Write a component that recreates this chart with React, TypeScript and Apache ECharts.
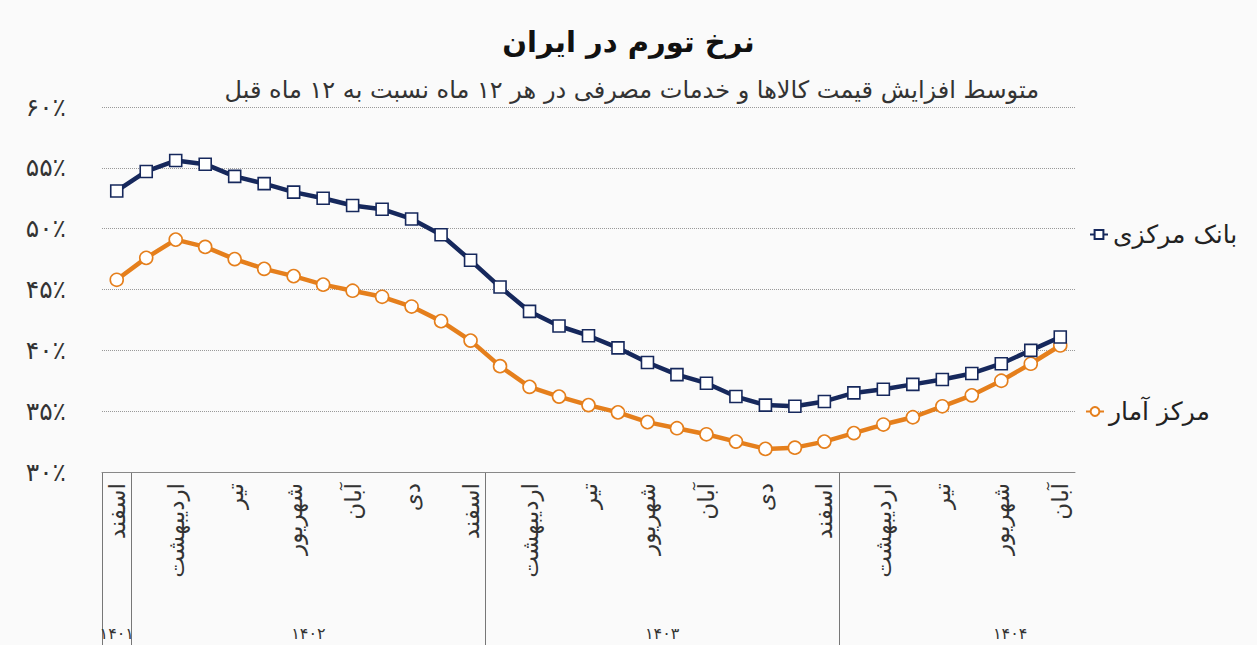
import React, { useEffect, useRef } from 'react';
import * as echarts from 'echarts';

const months = [
  'اسفند',
  'فروردین', 'اردیبهشت', 'خرداد', 'تیر', 'مرداد', 'شهریور', 'مهر', 'آبان', 'آذر', 'دی', 'بهمن', 'اسفند',
  'فروردین', 'اردیبهشت', 'خرداد', 'تیر', 'مرداد', 'شهریور', 'مهر', 'آبان', 'آذر', 'دی', 'بهمن', 'اسفند',
  'فروردین', 'اردیبهشت', 'خرداد', 'تیر', 'مرداد', 'شهریور', 'مهر', 'آبان',
];

const centralBank = [
  53.1, 54.7, 55.6, 55.3, 54.3, 53.7, 53.0, 52.5, 51.9, 51.6, 50.8, 49.5, 47.4,
  45.2, 43.2, 42.0, 41.2, 40.2, 39.0, 38.0, 37.3, 36.2, 35.5, 35.4, 35.8,
  36.5, 36.8, 37.2, 37.6, 38.1, 38.9, 40.0, 41.1,
];

const statCenter = [
  45.8, 47.6, 49.1, 48.5, 47.5, 46.7, 46.1, 45.4, 44.9, 44.4, 43.6, 42.4, 40.8,
  38.7, 37.0, 36.2, 35.5, 34.9, 34.1, 33.6, 33.1, 32.5, 31.9, 32.0, 32.5,
  33.2, 33.9, 34.5, 35.4, 36.3, 37.5, 38.9, 40.4,
];

const years = ['۱۴۰۱', '۱۴۰۲', '۱۴۰۳', '۱۴۰۴'];
const yearStartIdx = [0, 1, 13, 25];
const yearLabelIdx = [0, 6.5, 18.5, 30.3];

const seriesNames = ['بانک مرکزی', 'مرکز آمار'];
const titleText = 'نرخ تورم در ایران';
const subtitleText = 'متوسط افزایش قیمت کالاها و خدمات مصرفی در هر ۱۲ ماه نسبت به ۱۲ ماه قبل';

const yMin = 30;
const yMax = 60;
const yStep = 5;

const FONT = '"DejaVu Sans", "Noto Sans", sans-serif';
const BLUE = '#16285c';
const ORANGE = '#e57f1c';

const toFa = (s: string | number) =>
  String(s).replace(/[0-9]/g, (d) => '۰۱۲۳۴۵۶۷۸۹'[Number(d)]);

export default function App() {
  const ref = useRef<HTMLDivElement>(null);

  useEffect(() => {
    if (!ref.current) return;
    const chart = echarts.init(ref.current, undefined, { renderer: 'svg' });
    chart.setOption({
      animation: false,
      backgroundColor: '#fafafa',
      textStyle: { fontFamily: FONT },
      title: [
        {
          text: titleText,
          left: 'center',
          top: 22,
          textStyle: { fontSize: 29, fontWeight: 'bold', color: '#111', fontFamily: FONT },
        },
        {
          text: subtitleText,
          right: 213,
          top: 73,
          textStyle: { fontSize: 24, fontWeight: 'normal', color: '#333', fontFamily: FONT },
        },
      ],
      legend: [
        {
          data: [seriesNames[0]],
          left: 1084,
          top: 217,
          itemWidth: 18,
          itemHeight: 11,
          itemGap: 4,
          textStyle: { fontSize: 25, color: '#222', fontFamily: FONT },
        },
        {
          data: [seriesNames[1]],
          left: 1080,
          top: 394,
          itemWidth: 18,
          itemHeight: 11,
          itemGap: 4,
          textStyle: { fontSize: 25, color: '#222', fontFamily: FONT },
        },
      ],
      grid: { left: 102, right: 182, top: 107, bottom: 173, containLabel: false },
      xAxis: {
        type: 'category',
        data: months,
        boundaryGap: true,
        axisLine: { show: true, lineStyle: { color: '#888', width: 1 } },
        axisTick: { show: false },
        axisLabel: {
          rotate: 90,
          interval: 1,
          fontSize: 23,
          color: '#333',
          margin: 11,
          fontFamily: FONT,
        },
        splitLine: { show: false },
      },
      yAxis: {
        type: 'value',
        min: yMin,
        max: yMax,
        interval: yStep,
        axisLine: { show: false },
        axisTick: { show: false },
        axisLabel: {
          formatter: (v: number) => toFa(v) + '٪',
          fontSize: 25,
          color: '#333',
          margin: 36,
          fontFamily: FONT,
        },
        splitLine: { lineStyle: { type: 'dotted', color: '#999', width: 1 } },
      },
      series: [
        {
          name: seriesNames[0],
          type: 'line',
          data: centralBank,
          color: BLUE,
          symbol: 'rect',
          symbolSize: 12,
          lineStyle: { color: BLUE, width: 4.5 },
          itemStyle: { color: '#fff', borderColor: BLUE, borderWidth: 1.6 },
          z: 3,
        },
        {
          name: seriesNames[1],
          type: 'line',
          data: statCenter,
          color: ORANGE,
          symbol: 'circle',
          symbolSize: 13,
          lineStyle: { color: ORANGE, width: 4.5 },
          itemStyle: { color: '#fff', borderColor: ORANGE, borderWidth: 1.6 },
          z: 2,
        },
      ],
    });

    const px = (idx: number) => {
      const lo = Math.floor(idx);
      const hi = Math.ceil(idx);
      const a = chart.convertToPixel({ xAxisIndex: 0 }, lo) as number;
      const b = chart.convertToPixel({ xAxisIndex: 0 }, hi) as number;
      return a + (b - a) * (idx - lo);
    };
    const yBase = chart.convertToPixel({ yAxisIndex: 0 }, yMin) as number;
    const band = px(1) - px(0);
    const bottom = 645;

    const graphics: any[] = [];
    yearStartIdx.forEach((i) => {
      const x = Math.round(px(i) - band / 2) + 0.5;
      graphics.push({
        type: 'line',
        shape: { x1: x, y1: yBase, x2: x, y2: bottom },
        style: { stroke: '#777', lineWidth: 1 },
        silent: true,
      });
    });
    years.forEach((y, k) => {
      graphics.push({
        type: 'text',
        x: px(yearLabelIdx[k]),
        y: 633,
        style: {
          text: y,
          fontSize: 16,
          fill: '#333',
          fontFamily: FONT,
          align: 'center',
          verticalAlign: 'middle',
        },
        silent: true,
      });
    });
    chart.setOption({ graphic: graphics });

    return () => chart.dispose();
  }, []);

  return (
    <div
      ref={ref}
      style={{ position: 'fixed', left: 0, top: 0, width: 1257, height: 645 }}
    />
  );
}
